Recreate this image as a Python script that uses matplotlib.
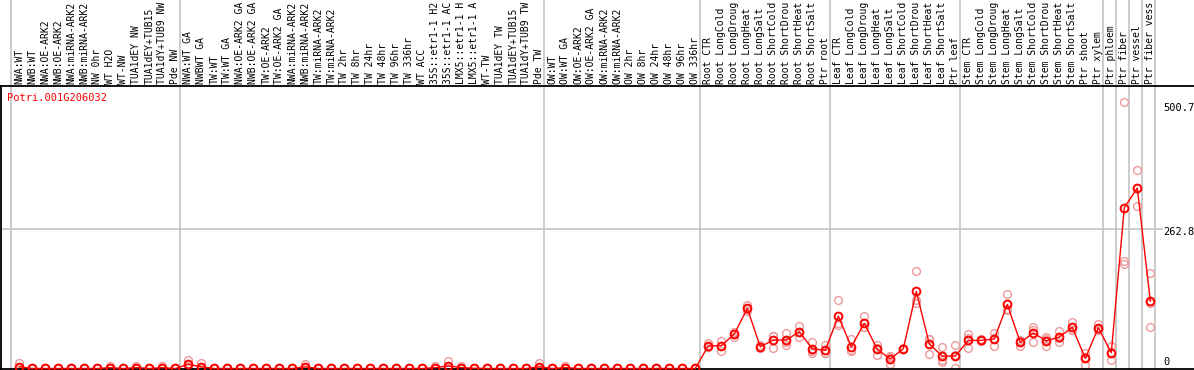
import matplotlib
matplotlib.use("Agg")
import matplotlib.pyplot as plt
from matplotlib.transforms import blended_transform_factory

gene_id = "Potri.001G206032"

categories = [
    "NWA:WT", "NWB:WT", "NWA:OE-ARK2", "NWB:OE-ARK2", "NWA:miRNA-ARK2", "NWB:miRNA-ARK2",
    "NW 0hr", "WT H2O", "WT-NW", "TUA1dEY NW", "TUA1dEY+TUB15 NW", "TUA1dY+TUB9 NW", "Pde NW",
    "NWA:WT GA", "NWBWT GA", "TW:WT", "TW:WT GA", "NWA:OE-ARK2 GA", "NWB:OE-ARK2 GA",
    "TW:OE-ARK2", "TW:OE-ARK2 GA", "NWA:miRNA-ARK2", "NWB:miRNA-ARK2", "TW:miRNA-ARK2",
    "TW:miRNA-ARK2", "TW 2hr", "TW 8hr", "TW 24hr", "TW 48hr", "TW 96hr", "TW 336hr", "WT ACC",
    "35S::etr1-1 H2O", "35S::etr1-1 ACC", "LMX5::etr1-1 H2O", "LMX5::etr1-1 ACC", "WT-TW",
    "TUA1dEY TW", "TUA1dEY+TUB15 TW", "TUA1dY+TUB9 TW", "Pde TW",
    "OW:WT", "OW:WT GA", "OW:OE-ARK2", "OW:OE-ARK2 GA", "OW:miRNA-ARK2", "OW:miRNA-ARK2",
    "OW 2hr", "OW 8hr", "OW 24hr", "OW 48hr", "OW 96hr", "OW 336hr",
    "Root CTR", "Root LongCold", "Root LongDrought", "Root LongHeat", "Root LongSalt",
    "Root ShortCold", "Root ShortDrought", "Root ShortHeat", "Root ShortSalt", "Ptr root",
    "Leaf CTR", "Leaf LongCold", "Leaf LongDrought", "Leaf LongHeat", "Leaf LongSalt",
    "Leaf ShortCold", "Leaf ShortDrought", "Leaf ShortHeat", "Leaf ShortSalt", "Ptr leaf",
    "Stem CTR", "Stem LongCold", "Stem LongDrought", "Stem LongHeat", "Stem LongSalt",
    "Stem ShortCold", "Stem ShortDrought", "Stem ShortHeat", "Stem ShortSalt", "Ptr shoot",
    "Ptr xylem",
    "Ptr phloem", "Ptr fiber", "Ptr vessel", "Ptr fiber vessel",
]

means = [
    3.4, 0, 0, 0, 0, 0, 0, 1.6, 0, 1.6, 0, 1.6, 0,
    7.8, 3.2, 0, 0, 0, 0, 0, 0, 0, 3.0, 0, 0, 0, 0, 0, 0, 0, 0, 0,
    1.6, 4.7, 1.7, 0.5, 0, 0, 0, 0, 3.2,
    0, 1.7, 0, 0, 0, 0, 0, 0, 0, 0, 0, 0,
    42.7, 42.7, 64.7, 112.8, 40.9, 53.4, 53.4, 69.0, 37.1, 34.1,
    98.4, 40.9, 84.7, 36.0, 17.8, 37.1, 144.7, 45.9, 23.4, 23.4,
    52.8, 52.8, 55.3, 120.3, 49.1, 66.5, 52.1, 59.0, 77.2, 19.1, 76.5,
    29.6, 302.0, 338.8, 126.5,
]

rep_a = [
    10.9, 0, 0, 0, 0, 0, 0, 4.7, 0, 4.7, 0, 4.7, 0,
    15.9, 9.7, 0, 0, 0, 0, 0, 0, 0, 7.9, 0, 0, 0, 0, 0, 0, 0, 0, 0,
    4.7, 14.6, 5.2, 1.0, 0, 0, 0, 0, 9.7,
    0, 5.2, 0, 0, 0, 0, 0, 0, 0, 0, 0, 0,
    47.2, 52.0, 69.0, 119.0, 44.0, 61.0, 66.0, 80.0, 49.0, 44.0,
    128.0, 54.7, 99.0, 45.0, 23.4, 36.0, 182.7, 54.7, 40.9, 44.0,
    64.0, 55.0, 66.0, 139.0, 53.4, 78.3, 58.5, 70.3, 87.1, 28.5, 82.8,
    42.2, 500.7, 373.4, 178.4,
]

rep_b = [
    0, 0, 0, 0, 0, 0, 0, 0, 0, 0, 0, 0, 0,
    4.0, 0, 0, 0, 0, 0, 0, 0, 0, 0.5, 0, 0, 0, 0, 0, 0, 0, 0, 0,
    0, 0, 0, 0.3, 0, 0, 0, 0, 0,
    0, 0, 0, 0, 0, 0, 0, 0, 0, 0, 0, 0,
    40.9, 33.4, 59.6, 111.0, 37.9, 39.0, 44.0, 58.5, 32.8, 28.5,
    84.7, 34.7, 78.0, 25.3, 8.4, 38.0, 128.0, 27.2, 12.7, 0.0,
    37.9, 51.0, 42.2, 109.6, 42.2, 49.1, 42.2, 57.7, 72.1, 6.6, 72.1,
    15.9, 201.5, 305.0, 78.3,
]

rep_c = [
    0, 0, 0, 0, 0, 0, 0, 0, 0, 0, 0, 0, 0,
    3.5, 0, 0, 0, 0, 0, 0, 0, 0, 0.5, 0, 0, 0, 0, 0, 0, 0, 0, 0,
    0, 0, 0, 0.2, 0, 0, 0, 0, 0,
    0, 0, 0, 0, 0, 0, 0, 0, 0, 0, 0, 0,
    40.0, 43.0, 65.5, 108.5, 40.8, 60.2, 50.2, 68.5, 29.5, 29.8,
    82.5, 33.0, 77.0, 37.7, 21.6, 37.3, 123.0, 55.8, 16.6, 26.0,
    56.5, 52.4, 57.7, 112.0, 51.7, 72.0, 55.6, 49.0, 72.4, 22.2, 74.6,
    30.7, 195.3, 338.0, 122.8,
]

group_starts = [0, 13, 41, 53, 63, 73, 84, 85, 86, 87, 88]

tick_values = [0, 262.8, 500.7]
tick_labels = ["0", "262.8", "500.7"]

# the label strip above the plot only has room for 14 characters
max_label_chars = 14

W, H = 1194, 370
fig = plt.figure(figsize=(W / 100, H / 100), dpi=100)
ax = fig.add_axes([1 / W, 1 / H, (W - 1) / W, 283 / H])

# pixel mapping: x pixel = 19.3 + 13*i
ax.set_xlim((1 - 19.3) / 13, (W - 19.3) / 13)
ax.set_ylim(-0.94, 530.4)

mono = "DejaVu Sans Mono"
light = "#ee9a9a"
red = "#ff0000"
grey = "#c4c4c4"

# group separators, extending through the label area
for k in group_starts:
    ax.axvline(k - 8 / 13, ymin=0, ymax=1.31, color=grey, lw=1.2, clip_on=False, zorder=1)

# horizontal grid line at middle tick
ax.plot([ax.get_xlim()[0], (1162 - 19.3) / 13], [tick_values[1]] * 2, color=grey, lw=1.2, zorder=1)

x = list(range(len(categories)))
for reps in (rep_a, rep_b, rep_c):
    ax.plot(x, reps, linestyle="none", marker="o", markersize=5.6, markerfacecolor="none",
            markeredgecolor=light, markeredgewidth=1.0, zorder=2, clip_on=False)
ax.plot(x, means, color=red, lw=1.0, marker="o", markersize=5.6, markerfacecolor="none",
        markeredgecolor=red, markeredgewidth=1.4, zorder=3, clip_on=False)

for s in ("left", "top", "bottom"):
    ax.spines[s].set_color("black")
    ax.spines[s].set_linewidth(1.3)
ax.spines["right"].set_visible(False)
ax.set_xticks([])
ax.set_yticks([])

# category labels above the plot
tr = blended_transform_factory(ax.transData, fig.transFigure)
for i, name in enumerate(categories):
    shown = name[:max_label_chars].rstrip()
    ax.text(i, (H - 84) / H, shown, transform=tr, rotation=90, ha="center", va="bottom",
            fontsize=7.0, family=mono, color="black", clip_on=False)

# value labels at right
label_pix_y = [361.7, 231.7, 107.7]
for lab, py in zip(tick_labels, label_pix_y):
    fig.text(1163 / W, (H - py) / H, lab, ha="left", va="center", fontsize=7.5,
             family=mono, color="black")

fig.text(7 / W, (H - 98) / H, gene_id, ha="left", va="center", fontsize=7.5,
         family=mono, color=red)

fig.savefig("out.png", dpi=100)
